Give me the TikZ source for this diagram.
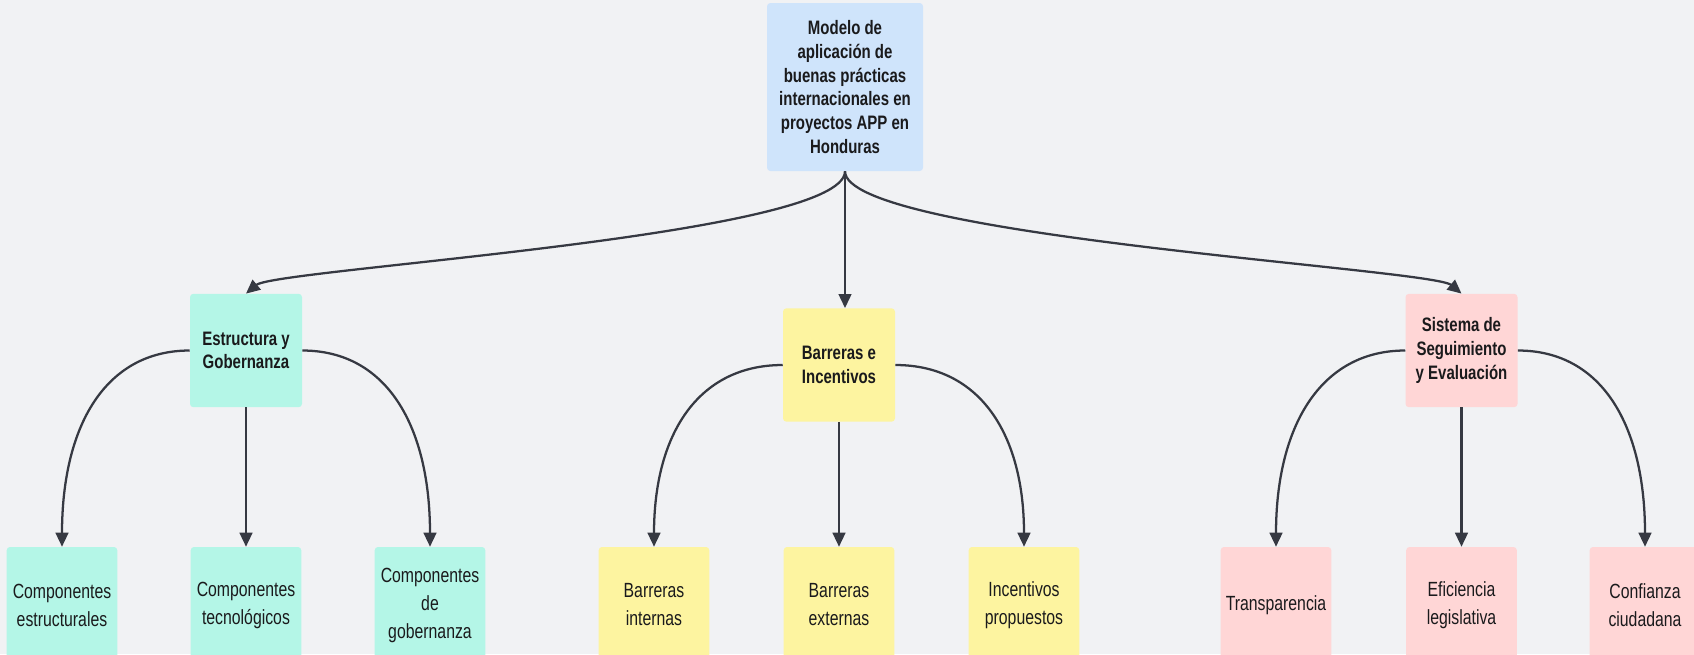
\documentclass[tikz,border=0pt]{standalone}
\usepackage{fontspec}
\setmainfont{Liberation Sans}[FakeStretch=0.77]
\usetikzlibrary{arrows.meta}
\definecolor{bgcol}{HTML}{F1F2F4}
\definecolor{linecol}{HTML}{363942}
\definecolor{textcol}{HTML}{1A1A1C}
\definecolor{bluec}{HTML}{CFE4FB}
\definecolor{tealc}{HTML}{B4F6E7}
\definecolor{yellowc}{HTML}{FDF4A0}
\definecolor{pinkc}{HTML}{FFD6D6}
\begin{document}
\begin{tikzpicture}[x=0.75pt,y=-0.75pt,
	box/.style={rounded corners=2.5pt,inner sep=0pt,align=center,text=textcol},
	head/.style={box,minimum width=84pt,minimum height=85pt,font=\fontsize{14.6pt}{17.8pt}\selectfont\bfseries},
	leaf/.style={box,minimum width=83pt,minimum height=87pt,font=\fontsize{15.4pt}{21pt}\selectfont},
	link/.style={draw=linecol,line width=1.7pt,-{Triangle[length=10.5pt,width=9.5pt]}}]
	\useasboundingbox (0,0) rectangle (1694,654);
	\clip (0,0) rectangle (1694,654);
	\fill[bgcol] (0,0) rectangle (1694,654);

	% root
	\node[head,fill=bluec,minimum width=117pt,minimum height=126pt] (model) at (845,87)
		{Modelo de\\aplicación de\\buenas prácticas\\internacionales en\\proyectos APP en\\Honduras};

	% second level
	\node[head,fill=tealc] (estructura) at (246,350.5) {Estructura y\\Gobernanza};
	\node[head,fill=yellowc] (barreras) at (839,365) {Barreras e\\Incentivos};
	\node[head,fill=pinkc] (sistema) at (1461.5,350.5) {Sistema de\\Seguimiento\\y Evaluación};

	% leaves
	\node[leaf,fill=tealc] (compEstr) at (62,605) {Componentes\\estructurales};
	\node[leaf,fill=tealc] (compTec) at (246,605) {Componentes\\tecnológicos};
	\node[leaf,fill=tealc] (compGob) at (430,605) {Componentes\\de\\gobernanza};
	\node[leaf,fill=yellowc] (barrInt) at (654,605) {Barreras\\internas};
	\node[leaf,fill=yellowc] (barrExt) at (839,605) {Barreras\\externas};
	\node[leaf,fill=yellowc] (incProp) at (1024,605) {Incentivos\\propuestos};
	\node[leaf,fill=pinkc] (transp) at (1276,605) {Transparencia};
	\node[leaf,fill=pinkc] (eficLeg) at (1461.5,605) {Eficiencia\\legislativa};
	\node[leaf,fill=pinkc] (confCiu) at (1645,605) {Confianza\\ciudadana};

	\draw[link] (model.south) .. controls +(0,65) and +(30,-25) .. (estructura.north);
	\draw[link] (model.south) -- (model.south |- barreras.north);
	\draw[link] (model.south) .. controls +(0,65) and +(-30,-25) .. (sistema.north);

	\draw[link] (estructura.west) .. controls +(-85,0) and +(0,-120) .. (compEstr.north);
	\draw[link] (estructura.south) -- (compTec.north);
	\draw[link] (estructura.east) .. controls +(85,0) and +(0,-120) .. (compGob.north);

	\draw[link] (barreras.west) .. controls +(-85,0) and +(0,-112) .. (barrInt.north);
	\draw[link] (barreras.south) -- (barrExt.north);
	\draw[link] (barreras.east) .. controls +(85,0) and +(0,-112) .. (incProp.north);

	\draw[link] (sistema.west) .. controls +(-85,0) and +(0,-120) .. (transp.north);
	\draw[link] (sistema.south) -- (eficLeg.north);
	\draw[link] (sistema.east) .. controls +(85,0) and +(0,-120) .. (confCiu.north);
\end{tikzpicture}
\end{document}
